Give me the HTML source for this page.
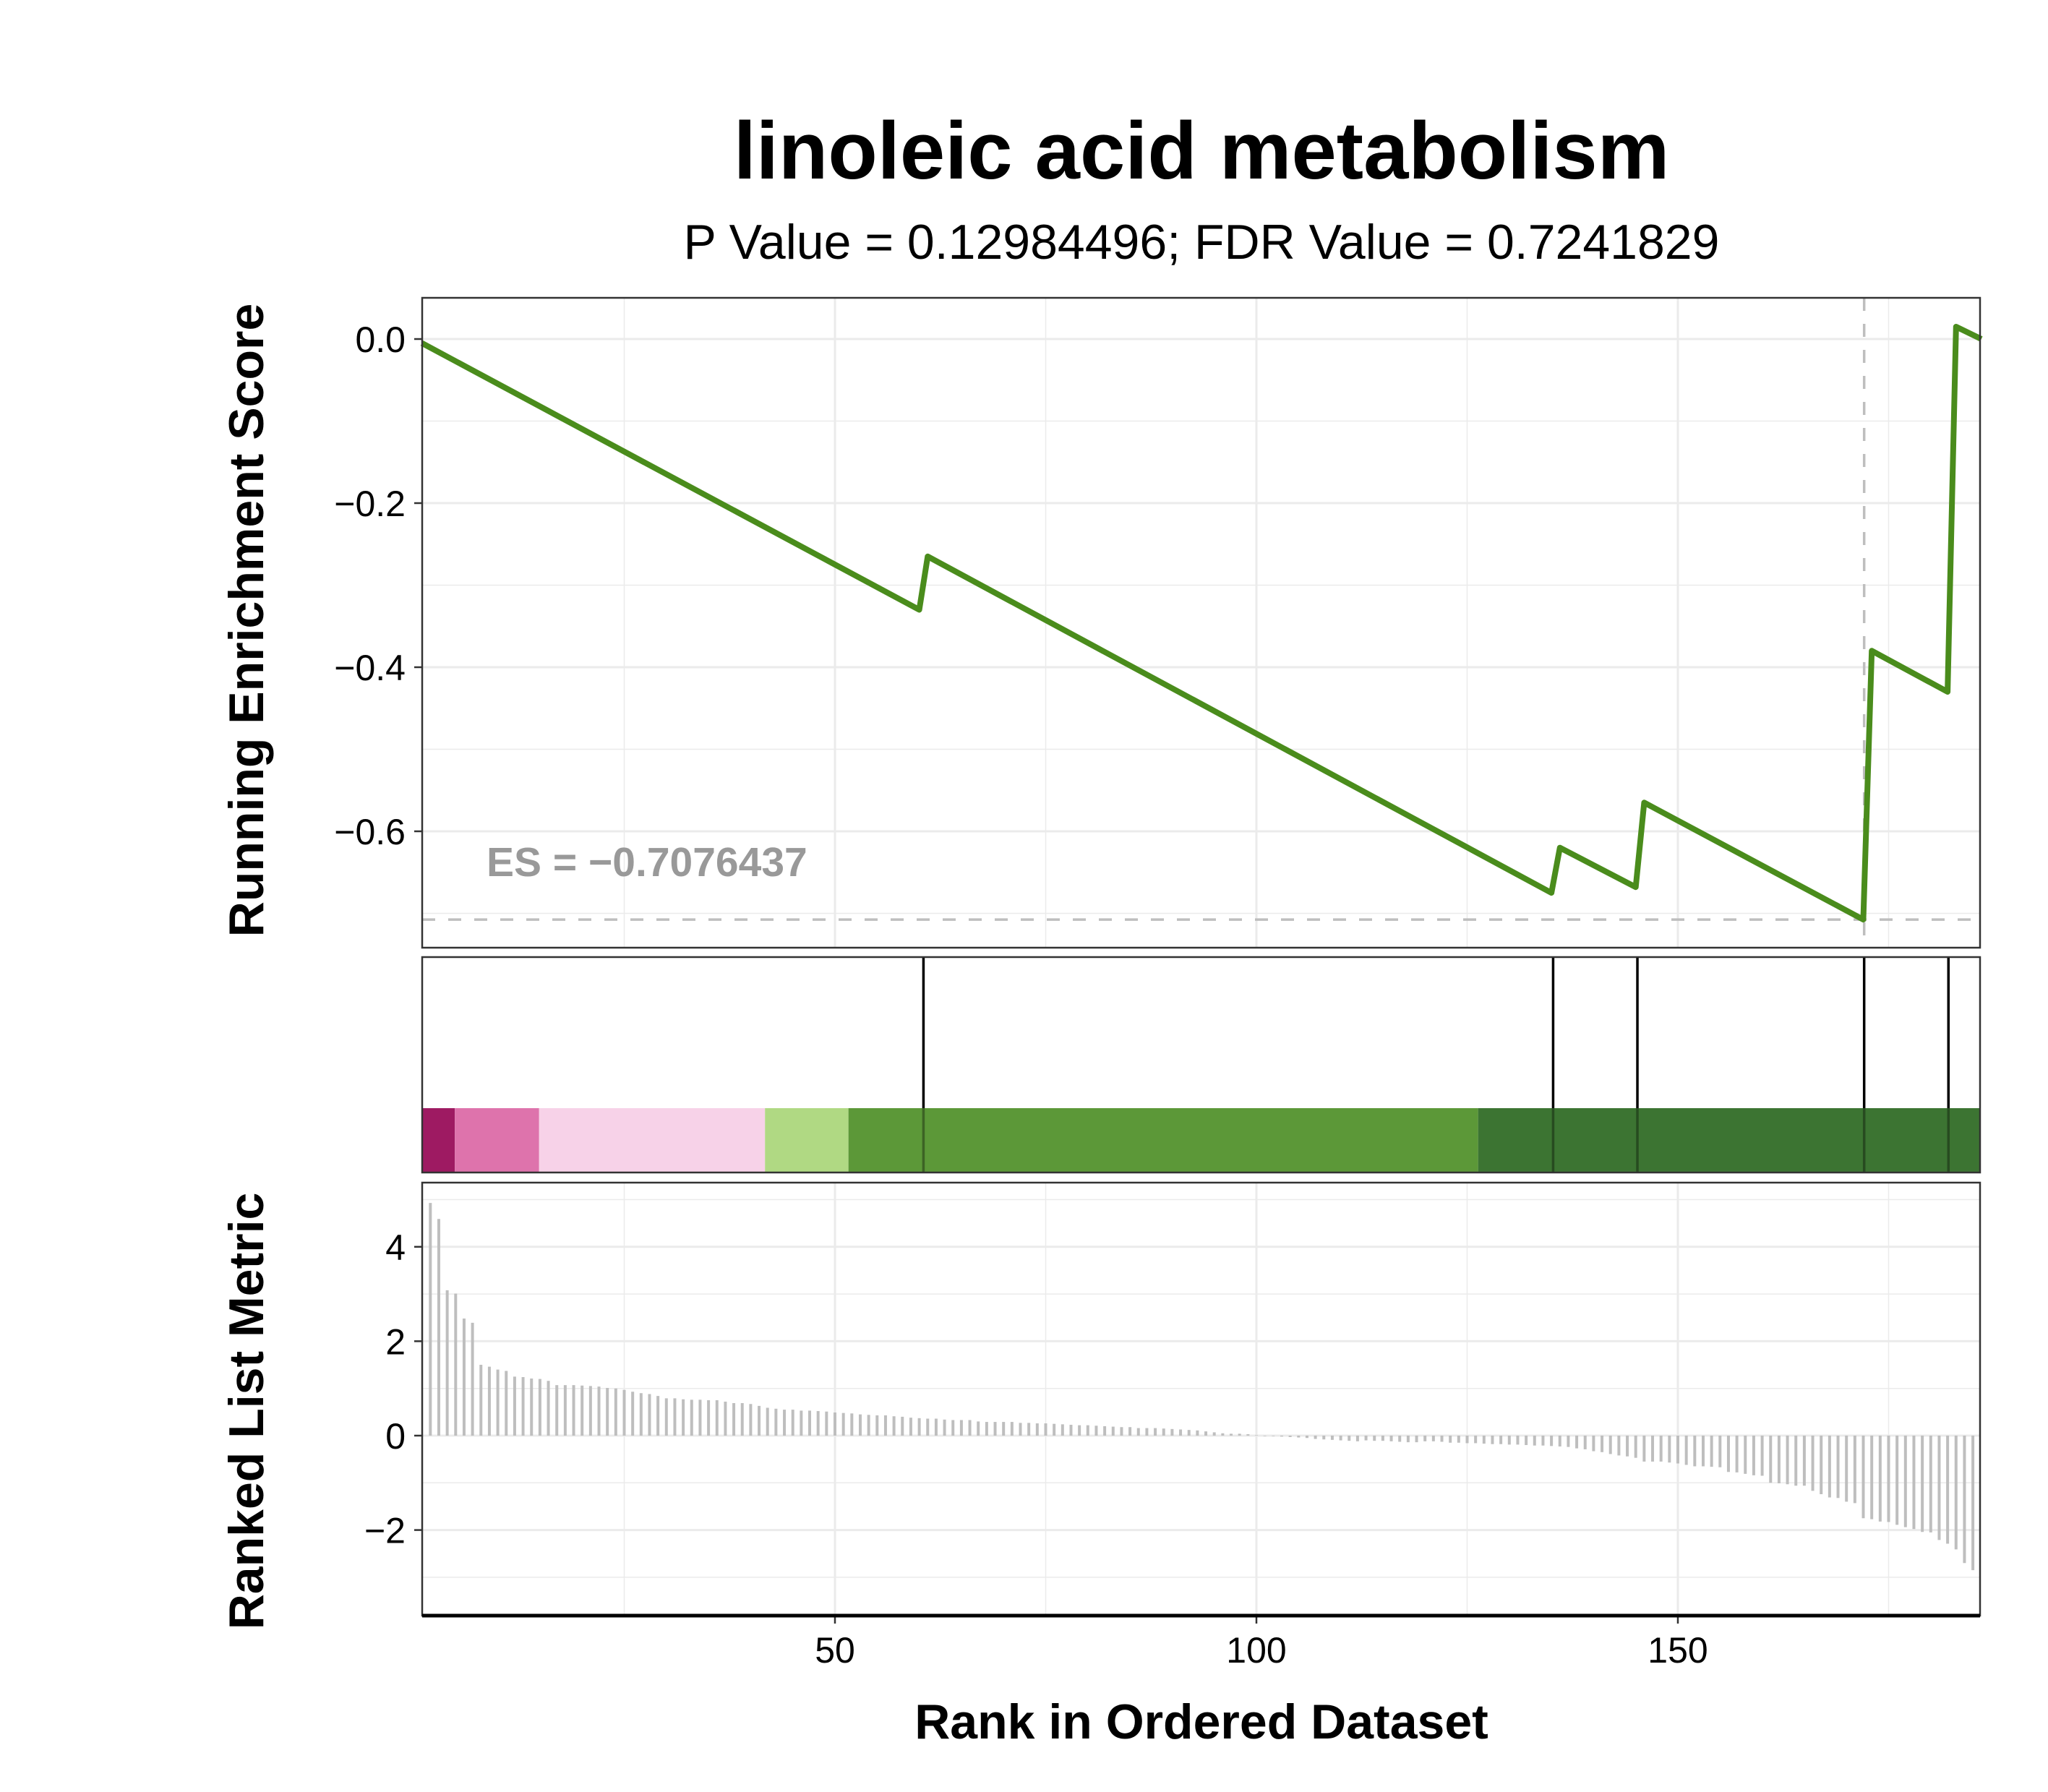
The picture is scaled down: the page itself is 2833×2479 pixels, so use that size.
<!DOCTYPE html>
<html><head><meta charset="utf-8"><style>
html,body{margin:0;padding:0;background:#fff;}
svg{display:block;font-family:"Liberation Sans",Arial,sans-serif;}
</style></head><body>
<svg id="chart" width="2833" height="2479" viewBox="0 0 2833 2479" xmlns="http://www.w3.org/2000/svg">
<rect width="2833" height="2479" fill="#fff"/>
<text x="1662" y="247" text-anchor="middle" font-size="112" font-weight="bold">linoleic acid metabolism</text>
<text x="1662" y="358" text-anchor="middle" font-size="68">P Value = 0.12984496; FDR Value = 0.7241829</text>
<text transform="translate(364,858) rotate(-90)" text-anchor="middle" font-size="68" font-weight="bold">Running Enrichment Score</text>
<text transform="translate(364,1952) rotate(-90)" text-anchor="middle" font-size="68" font-weight="bold">Ranked List Metric</text>
<text x="1662" y="2405" text-anchor="middle" font-size="68" font-weight="bold">Rank in Ordered Dataset</text>
<g id="layer"></g>
</svg>
<script>
// ---- data ----
const esRanks = [1, 60, 61, 135, 136, 145, 146, 172, 173, 182, 183, 186];
const esValues = [-0.005, -0.33, -0.265, -0.675, -0.62, -0.668, -0.565, -0.7076, -0.38, -0.43, 0.015, 0.0];
const hitRanks = [60.5, 135.2, 145.2, 172.1, 182.1];
const esMax = -0.7076437;
const esMaxRank = 172.1;
const metricStartRank = 2;
const metricValues = [4.93,4.59,3.08,3.01,2.48,2.39,1.50,1.46,1.40,1.37,1.25,1.24,1.21,1.20,1.16,1.07,1.07,1.07,1.06,1.05,1.04,1.01,1.0,0.97,0.93,0.90,0.88,0.84,0.79,0.79,0.77,0.76,0.76,0.75,0.75,
0.72,0.69,0.69,0.67,0.63,0.59,0.57,0.55,0.55,0.53,0.53,0.52,0.51,0.49,0.48,0.47,0.45,0.44,0.43,0.43,0.41,0.40,0.38,0.37,0.36,0.36,0.34,0.33,0.33,0.33,0.30,0.29,0.29,0.29,0.29,0.27,0.27,0.26,0.26,0.25,0.24,0.23,0.22,0.22,0.21,0.20,0.19,0.18,0.18,0.16,0.16,0.16,0.15,0.14,0.13,0.12,0.11,0.09,0.07,0.05,0.04,0.04,0.03,0.01,
-0.01,-0.01,-0.02,-0.03,-0.04,-0.05,-0.07,-0.08,-0.09,-0.10,-0.11,-0.12,
-0.10,-0.11,-0.11,-0.12,-0.13,-0.14,-0.14,
-0.12,-0.12,-0.13,-0.15,-0.15,-0.16,-0.16,-0.17,-0.18,-0.18,-0.19,-0.19,-0.20,-0.21,-0.21,-0.22,-0.23,-0.24,
-0.27,-0.29,-0.33,-0.35,-0.39,-0.42,-0.44,-0.47,-0.55,-0.55,-0.55,-0.57,-0.59,-0.62,-0.65,-0.65,-0.66,-0.67,
-0.77,-0.78,-0.81,-0.84,-0.85,-1.0,-1.01,-1.03,-1.06,-1.06,-1.17,-1.24,-1.31,-1.32,-1.40,-1.43,
-1.75,-1.77,-1.82,-1.83,-1.89,-1.94,-1.98,-2.04,-2.05,-2.21,-2.29,-2.41,-2.70,-2.85];
const bandStarts = [1.03, 4.9, 14.9, 41.7, 51.6, 126.3];
const bandEnds = [4.9, 14.9, 41.7, 51.6, 126.3, 185.85];
const bandColors = ["#9E1A62", "#DE73AC", "#F7D2E8", "#B0D983", "#5C9838", "#3C7432"];
const xTicks = [50, 100, 150];
const xMinor = [25, 75, 125, 175];
const esTicks = [0, -0.2, -0.4, -0.6];
const esTickLabels = ["0.0", "\u22120.2", "\u22120.4", "\u22120.6"];
const esMinor = [-0.1, -0.3, -0.5, -0.7];
const mTicks = [4, 2, 0, -2];
const mTickLabels = ["4", "2", "0", "\u22122"];
const mMinor = [5, 3, 1, -1, -3];

// ---- scales ----
const L = 584, R = 2739;
const x = r => 1155 + (r - 50) * 11.66;
const P1 = {top: 412, bot: 1311};
const yEs = v => 469 - v * 1135;
const P2 = {top: 1324, bot: 1622, strip: 1533};
const P3 = {top: 1636, bot: 2235};
const yM = v => 1986 - v * 65.3;

const NS = "http://www.w3.org/2000/svg";
const layer = document.getElementById("layer");
function mk(tag, attrs, parent) {
  const e = document.createElementNS(NS, tag);
  for (const k in attrs) e.setAttribute(k, attrs[k]);
  (parent || layer).appendChild(e);
  return e;
}

// ===== Panel 1: running ES =====
const g1 = mk("g", {});


esMinor.forEach(v => { const l = mk("line", {x1: L, x2: R, y1: yEs(v), y2: yEs(v), stroke: "#ebebeb", "stroke-width": 1.5}, g1);
  
   });
xMinor.forEach(v => { const l = mk("line", {x1: x(v), x2: x(v), y1: P1.top, y2: P1.bot, stroke: "#ebebeb", "stroke-width": 1.5}, g1);
  
   });
esTicks.forEach((v, i) => {
  const l = mk("line", {x1: L, x2: R, y1: yEs(v), y2: yEs(v), stroke: "#ebebeb", "stroke-width": 3}, g1);
  
  
  const t = mk("line", {x1: L - 11, x2: L, y1: yEs(v), y2: yEs(v), stroke: "#333", "stroke-width": 2.5}, g1);
  
  
  const tx = mk("text", {x: 561, y: yEs(v) + 18, "text-anchor": "end", "font-size": 50, fill: "#000"}, g1);
  tx.textContent = esTickLabels[i];
  
  
});
xTicks.forEach(v => { const l = mk("line", {x1: x(v), x2: x(v), y1: P1.top, y2: P1.bot, stroke: "#ebebeb", "stroke-width": 3}, g1);
  
   });
const hd = mk("line", {x1: L, x2: R, y1: yEs(esMax), y2: yEs(esMax), stroke: "#bebebe", "stroke-width": 3.5, "stroke-dasharray": "18 18"}, g1);


const vd = mk("line", {x1: x(esMaxRank), x2: x(esMaxRank), y1: P1.top, y2: P1.bot, stroke: "#bebebe", "stroke-width": 3.5, "stroke-dasharray": "18 18"}, g1);


const esPts = esRanks.map((r, i) => x(r).toFixed(1) + "," + yEs(esValues[i]).toFixed(1)).join(" ");
const esLine = mk("polyline", {points: esPts, fill: "none", stroke: "#4A8C1C", "stroke-width": 8, "stroke-linejoin": "round"}, g1);


const esT = mk("text", {x: 673, y: 1212, "font-size": 57, "font-weight": "bold", fill: "#999"}, g1);
esT.textContent = "ES = \u22120.7076437";


const b1 = mk("rect", {x: L, y: P1.top, width: R - L, height: P1.bot - P1.top, fill: "none", stroke: "#333", "stroke-width": 2.5}, g1);



// ===== Panel 2: hits + ranking ribbon =====
const g2 = mk("g", {});


bandStarts.forEach((s, i) => {
  const rc = mk("rect", {x: x(s), y: P2.strip, width: x(bandEnds[i]) - x(s), height: P2.bot - P2.strip, fill: bandColors[i]}, g2);
  
  
});
hitRanks.forEach(r => {
  const l = mk("line", {x1: x(r), x2: x(r), y1: P2.top, y2: P2.strip, stroke: "#000", "stroke-width": 3.5}, g2);
  
  
  const l2 = mk("line", {x1: x(r), x2: x(r), y1: P2.strip, y2: P2.bot, stroke: "#000", "stroke-opacity": 0.35, "stroke-width": 3.5}, g2);
  
  
});
const b2 = mk("rect", {x: L, y: P2.top, width: R - L, height: P2.bot - P2.top, fill: "none", stroke: "#333", "stroke-width": 2.5}, g2);



// ===== Panel 3: ranked metric =====
const g3 = mk("g", {});


mMinor.forEach(v => { const l = mk("line", {x1: L, x2: R, y1: yM(v), y2: yM(v), stroke: "#ebebeb", "stroke-width": 1.5}, g3);
  
   });
xMinor.forEach(v => { const l = mk("line", {x1: x(v), x2: x(v), y1: P3.top, y2: P3.bot, stroke: "#ebebeb", "stroke-width": 1.5}, g3);
  
   });
mTicks.forEach((v, i) => {
  const l = mk("line", {x1: L, x2: R, y1: yM(v), y2: yM(v), stroke: "#ebebeb", "stroke-width": 3}, g3);
  
  
  const t = mk("line", {x1: L - 11, x2: L, y1: yM(v), y2: yM(v), stroke: "#333", "stroke-width": 2.5}, g3);
  
  
  const tx = mk("text", {x: 561, y: yM(v) + 18, "text-anchor": "end", "font-size": 50, fill: "#000"}, g3);
  tx.textContent = mTickLabels[i];
  
  
});
xTicks.forEach(v => {
  const l = mk("line", {x1: x(v), x2: x(v), y1: P3.top, y2: P3.bot, stroke: "#ebebeb", "stroke-width": 3}, g3);
  
  
  const t = mk("line", {x1: x(v), x2: x(v), y1: P3.bot, y2: P3.bot + 11, stroke: "#333", "stroke-width": 2.5}, g3);
  
  
  const tx = mk("text", {x: x(v), y: 2300, "text-anchor": "middle", "font-size": 50, fill: "#000"}, g3);
  tx.textContent = String(v);
  
  
});
metricValues.forEach((v, i) => {
  const r = metricStartRank + i;
  const b = mk("line", {x1: x(r), x2: x(r), y1: yM(0), y2: yM(v), stroke: "#bebebe", "stroke-width": 4}, g3);
  
  
});
const b3 = mk("rect", {x: L, y: P3.top, width: R - L, height: P3.bot - P3.top, fill: "none", stroke: "#333", "stroke-width": 2.5}, g3);


const ax = mk("line", {x1: L, x2: R, y1: P3.bot, y2: P3.bot, stroke: "#000", "stroke-width": 5}, g3);


</script>
</body></html>
